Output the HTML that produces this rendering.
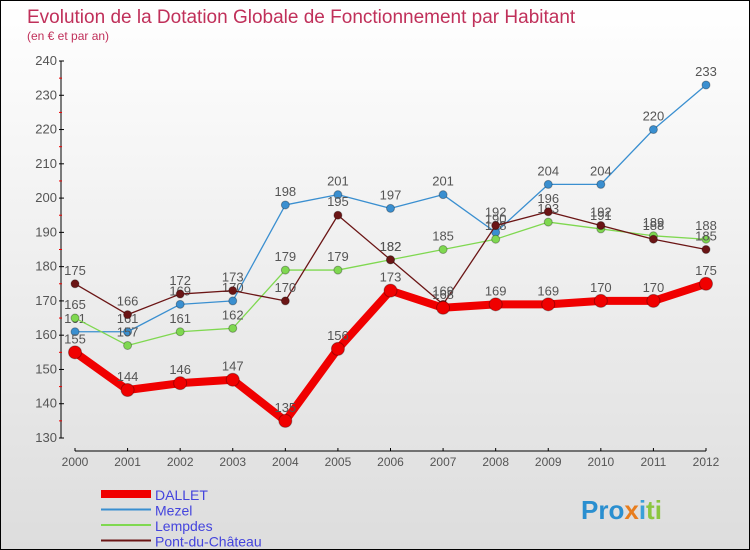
<!DOCTYPE html>
<html><head><meta charset="utf-8"><style>
body{margin:0;width:750px;height:550px;overflow:hidden;font-family:"Liberation Sans",sans-serif}
#wrap{position:relative;width:748px;height:548px;border:1px solid #000;background:linear-gradient(#fff,#ddd)}
</style></head><body>
<div id="wrap">
<svg id="chart" width="748" height="548" style="position:absolute;left:0;top:0">
<text x="26" y="22" font-size="19" fill="#c0305a">Evolution de la Dotation Globale de Fonctionnement par Habitant</text>
<text x="26" y="39" font-size="12" fill="#c0305a">(en € et par an)</text>
<g id="axes"></g><g id="series"></g><g id="legend"></g>
<text x="580" y="518" font-size="26" font-weight="bold" fill="#2a8fd0">Pro<tspan fill="#e87d1e">x</tspan><tspan fill="#3aa0d8">i</tspan><tspan fill="#8cc63f">ti</tspan></text>
</svg>
</div>
<script>
const years=[2000,2001,2002,2003,2004,2005,2006,2007,2008,2009,2010,2011,2012];
const yTicks=[130,140,150,160,170,180,190,200,210,220,230,240];
const dallet=[155,144,146,147,135,156,173,168,169,169,170,170,175];
const mezel=[161,161,169,170,198,201,197,201,190,204,204,220,233];
const lempdes=[165,157,161,162,179,179,182,185,188,193,191,189,188];
const pont=[175,166,172,173,170,195,182,169,192,196,192,188,185];
const NS="http://www.w3.org/2000/svg";
function X(i){return 74+i*(631/12);}
function Y(v){return 437-(v-130)*(377/110);}
function mk(t,a,p){const e=document.createElementNS(NS,t);for(const k in a)e.setAttribute(k,a[k]);p.appendChild(e);return e;}
const ax=document.getElementById('axes');
const yl=mk('line',{x1:60,y1:60,x2:60,y2:Y(130),stroke:'#000'},ax);

const xl=mk('line',{x1:X(0),y1:450,x2:X(12),y2:450,stroke:'#000'},ax);

yTicks.forEach((v,i)=>{
 mk('line',{x1:58,x2:63,y1:Y(v),y2:Y(v),stroke:'#000'},ax);
 if(i<yTicks.length-1)mk('line',{x1:58,x2:61,y1:Y(v+5),y2:Y(v+5),stroke:'#e00'},ax);
 const t=mk('text',{x:56,y:Y(v)+4,'text-anchor':'end','font-size':13,fill:'#555'},ax);t.textContent=v;
 
});
years.forEach((y,i)=>{
 mk('line',{x1:X(i),x2:X(i),y1:447,y2:450,stroke:'#000'},ax);
 const t=mk('text',{x:X(i),y:465,'text-anchor':'middle','font-size':12,fill:'#555'},ax);t.textContent=y;
 
});
const sg=document.getElementById('series');
function draw(data,color,w,r,name){
 const g=mk('g',{},sg);
 
 mk('polyline',{points:data.map((v,i)=>X(i)+','+Y(v)).join(' '),fill:'none',stroke:color,'stroke-width':w,'stroke-linejoin':'round'},g);
 data.forEach((v,i)=>{
  const c=mk('circle',{cx:X(i),cy:Y(v),r:r,fill:color,stroke:'rgba(0,0,0,0.3)'},g);
  
  const t=mk('text',{x:X(i),y:Y(v)-9,'text-anchor':'middle','font-size':13,fill:'#555'},g);t.textContent=v;
  
 });
}
draw(mezel,'#3a8fd0',1.3,4,'mezel');
draw(lempdes,'#7fd850',1.3,4,'lempdes');
draw(pont,'#6b1515',1.3,4,'pont-du-chateau');
draw(dallet,'#f00000',8,6.5,'dallet');
const lg=document.getElementById('legend');
[['DALLET','#f00000',8],['Mezel','#3a8fd0',2],['Lempdes','#7fd850',2],['Pont-du-Château','#6b1515',2]].forEach((d,i)=>{
 const y=493+i*15.5;
 const g=mk('g',{},lg);
 mk('line',{x1:100,x2:150,y1:y,y2:y,stroke:d[1],'stroke-width':d[2]},g);
 const t=mk('text',{x:154,y:y+6,'font-size':14,fill:'#4444dd'},g);t.textContent=d[0];
});
</script>
</body></html>
